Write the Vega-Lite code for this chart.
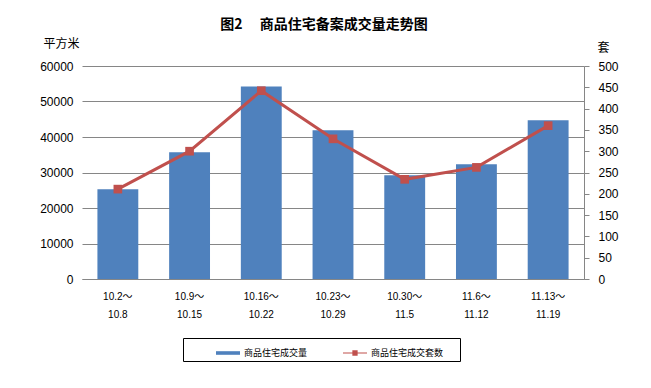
{
  "$schema": "https://vega.github.io/schema/vega-lite/v6.json",
  "width": 502,
  "height": 213,
  "autosize": "none",
  "padding": {"left": 82, "top": 66, "right": 67, "bottom": 109},
  "background": "white",
  "title": {
    "text": "图2\u3000\u00a0商品住宅备案成交量走势图",
    "frame": "group",
    "anchor": "middle",
    "offset": 5,
    "dx": -9,
    "fontSize": 14,
    "fontWeight": "bold",
    "font": "Noto Sans CJK SC",
    "color": "#000"
  },
  "data": {
    "values": [
      {"period": "10.2～|10.8", "area": 25300, "units": 211},
      {"period": "10.9～|10.15", "area": 35700, "units": 300},
      {"period": "10.16～|10.22", "area": 54200, "units": 442},
      {"period": "10.23～|10.29", "area": 41900, "units": 329},
      {"period": "10.30～|11.5", "area": 29200, "units": 234},
      {"period": "11.6～|11.12", "area": 32300, "units": 262},
      {"period": "11.13～|11.19", "area": 44700, "units": 360}
    ]
  },
  "encoding": {
    "x": {
      "field": "period",
      "type": "nominal",
      "sort": null,
      "scale": {"paddingInner": 0.43, "paddingOuter": 0.215},
      "axis": {
        "title": null,
        "labelAngle": 0,
        "labelExpr": "split(datum.value, '|')",
        "labelBaseline": "top",
        "labelLineHeight": 18,
        "labelPadding": 12,
        "labelFontSize": 10,
        "labelFont": "Liberation Sans, Noto Sans CJK SC",
        "labelColor": "#000",
        "ticks": false,
        "domain": true,
        "domainColor": "#868686",
        "domainWidth": 1
      }
    }
  },
  "layer": [
    {
      "mark": {"type": "bar", "color": "#4F81BD"},
      "encoding": {
        "y": {
          "field": "area",
          "type": "quantitative",
          "scale": {"domain": [0, 60000], "nice": false},
          "axis": {
            "orient": "left",
            "values": [0, 10000, 20000, 30000, 40000, 50000, 60000],
            "format": "d",
            "title": "平方米",
            "titleAngle": 0,
            "titleAlign": "center",
            "titleBaseline": "middle",
            "titleX": -21,
            "titleY": -23,
            "titleFontSize": 12,
            "titleFontWeight": "normal",
            "titleFont": "Noto Sans CJK SC",
            "titleColor": "#000",
            "labelFontSize": 12,
            "labelFont": "Liberation Sans",
            "labelColor": "#000",
            "labelPadding": 9,
            "ticks": false,
            "domain": false,
            "grid": true,
            "gridColor": "#868686",
            "gridWidth": 1,
            "gridOpacity": 1
          }
        },
        "color": {
          "datum": "商品住宅成交量",
          "scale": {"domain": ["商品住宅成交量", "商品住宅成交套数"], "range": ["#4F81BD", "#C0504D"]},
          "legend": {
            "title": " ",
            "titleOrient": "right",
            "titlePadding": 14,
            "orient": "none",
            "legendX": 101,
            "legendY": 272,
            "direction": "horizontal",
            "strokeColor": "#000",
            "padding": 3,
            "symbolOffset": 30,
            "columnPadding": 5,
            "labelOffset": 4,
            "labelFontSize": 9,
            "labelFont": "Noto Sans CJK SC",
            "labelColor": "#000",
            "symbolSize": 576,
            "encode": {
              "symbols": {
                "update": {
                  "shape": {"signal": "datum.value === '商品住宅成交量' ? 'M-1,-0.15H1V0.15H-1Z' : 'M-1,-0.05H1V0.05H-1Z M-0.22,-0.22H0.22V0.22H-0.22Z'"},
                  "fill": {"signal": "datum.value === '商品住宅成交量' ? '#4F81BD' : '#C0504D'"},
                  "stroke": {"value": "transparent"},
                  "strokeWidth": {"value": 0},
                  "size": {"value": 576},
                  "opacity": {"value": 1}
                }
              }
            }
          }
        }
      }
    },
    {
      "mark": {
        "type": "line",
        "color": "#C0504D",
        "strokeWidth": 3,
        "point": {"shape": "square", "size": 75, "filled": true, "color": "#C0504D", "opacity": 1}
      },
      "encoding": {
        "y": {
          "field": "units",
          "type": "quantitative",
          "scale": {"domain": [0, 500], "nice": false},
          "axis": {
            "orient": "right",
            "values": [0, 50, 100, 150, 200, 250, 300, 350, 400, 450, 500],
            "title": "套",
            "titleAngle": 0,
            "titleAlign": "center",
            "titleBaseline": "middle",
            "titleX": 19,
            "titleY": -19,
            "titleFontSize": 12,
            "titleFontWeight": "normal",
            "titleFont": "Noto Sans CJK SC",
            "titleColor": "#000",
            "labelFontSize": 12,
            "labelFont": "Liberation Sans",
            "labelColor": "#000",
            "labelPadding": 9,
            "ticks": true,
            "tickSize": 5,
            "tickColor": "#868686",
            "domain": true,
            "domainColor": "#868686",
            "grid": false
          }
        },
        "color": {"datum": "商品住宅成交套数"}
      }
    }
  ],
  "resolve": {"scale": {"y": "independent"}},
  "config": {
    "view": {"stroke": null}
  }
}
